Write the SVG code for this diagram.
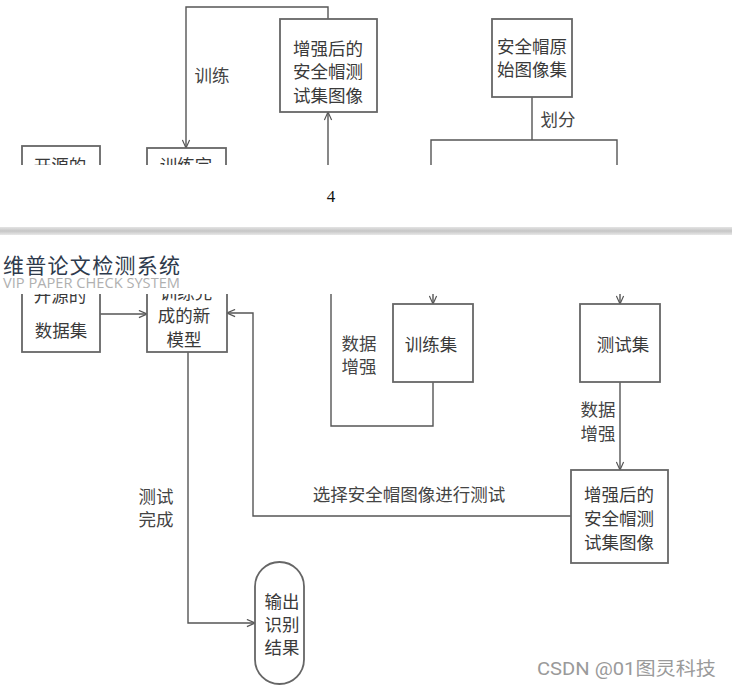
<svg xmlns="http://www.w3.org/2000/svg" width="732" height="689" viewBox="0 0 732 689">
<style>
.box{fill:#fff;stroke:#666;stroke-width:1.8}
.ln{fill:none;stroke:#555;stroke-width:1.4}
.t{font-family:"Noto Sans CJK SC","Noto Sans",sans-serif;font-size:17.5px;fill:#3a3a3a;text-anchor:middle;dominant-baseline:central}
.lbl{font-family:"Noto Sans CJK SC","Noto Sans",sans-serif;font-size:17.5px;fill:#444;text-anchor:middle;dominant-baseline:central}
</style>
<defs>
<marker id="arr" viewBox="0 0 10 10" refX="10" refY="5" markerWidth="9" markerHeight="9" markerUnits="userSpaceOnUse" orient="auto">
<path d="M1,1 L10,5 L1,9" fill="none" stroke="#555" stroke-width="1.3"/>
</marker>
<clipPath id="topPage"><rect x="0" y="0" width="732" height="165"/></clipPath>
<clipPath id="botPage"><rect x="0" y="294" width="732" height="395"/></clipPath>
<linearGradient id="band" x1="0" y1="0" x2="0" y2="1">
<stop offset="0" stop-color="#e4e4e4"/>
<stop offset="0.5" stop-color="#c6c6c6"/>
<stop offset="1" stop-color="#e8e8e8"/>
</linearGradient>
</defs>
<rect width="732" height="689" fill="#fff"/>

<!-- top page -->
<g clip-path="url(#topPage)">
<g id="connectors-top">
<path class="ln" d="M328,19 L328,7 L186,7 L186,148" marker-end="url(#arr)"/>
<path class="ln" d="M328,175 L328,112" marker-end="url(#arr)"/>
<path class="ln" d="M532,97 L532,140 M431,175 L431,140 L617,140 L617,175"/>
<text class="lbl" x="212" y="74">训练</text>
<text class="lbl" x="558" y="118">划分</text>
</g>
<g id="top-aug-test">
<rect class="box" x="280" y="19" width="97" height="93"/>
<text class="t" x="328" y="47">增强后的</text>
<text class="t" x="328" y="70">安全帽测</text>
<text class="t" x="328" y="94">试集图像</text>
</g>
<g id="raw-images">
<rect class="box" x="492" y="19" width="80" height="78"/>
<text class="t" x="532" y="45">安全帽原</text>
<text class="t" x="532" y="68">始图像集</text>
</g>
<g id="top-model">
<rect class="box" x="147" y="148" width="79" height="80"/>
<text class="t" x="186" y="164">训练完</text>
</g>
<g id="top-open-data">
<rect class="box" x="22" y="146" width="78" height="80"/>
<text class="t" x="60" y="164">开源的</text>
</g>
</g>

<text x="331" y="202" font-family="Liberation Serif, serif" font-size="17" fill="#111" text-anchor="middle">4</text>
<rect x="0" y="227" width="732" height="8" fill="url(#band)"/>

<!-- bottom page -->
<g clip-path="url(#botPage)">
<g id="connectors">
<path class="ln" d="M100,314 L147,314" marker-end="url(#arr)"/>
<path class="ln" d="M571,516 L253,516 L253,313 L227,313" marker-end="url(#arr)"/>
<path class="ln" d="M188,352 L188,623 L255,623" marker-end="url(#arr)"/>
<path class="ln" d="M331,280 L331,426 L433,426 L433,382"/>
<path class="ln" d="M433,280 L433,304" marker-end="url(#arr)"/>
<path class="ln" d="M620,280 L620,304" marker-end="url(#arr)"/>
<path class="ln" d="M620,382 L620,470" marker-end="url(#arr)"/>
<text class="lbl" x="359" y="342">数据</text>
<text class="lbl" x="359" y="365">增强</text>
<text class="lbl" x="598" y="408">数据</text>
<text class="lbl" x="598" y="432">增强</text>
<text class="lbl" x="156" y="495">测试</text>
<text class="lbl" x="156" y="518">完成</text>
<text class="lbl" x="409" y="493">选择安全帽图像进行测试</text>
</g>
<g id="open-data">
<rect class="box" x="22" y="260" width="78" height="92"/>
<text class="t" x="60" y="294">开源的</text>
<text class="t" x="61" y="329">数据集</text>
</g>
<g id="model">
<rect class="box" x="147" y="260" width="80" height="92"/>
<text class="t" x="186" y="291">训练完</text>
<text class="t" x="184" y="314">成的新</text>
<text class="t" x="184" y="338">模型</text>
</g>
<g id="train-set">
<rect class="box" x="393" y="304" width="80" height="78"/>
<text class="t" x="431" y="343">训练集</text>
</g>
<g id="test-set">
<rect class="box" x="580" y="304" width="80" height="78"/>
<text class="t" x="623" y="343">测试集</text>
</g>
<g id="aug-test">
<rect class="box" x="571" y="470" width="97" height="93"/>
<text class="t" x="619" y="493">增强后的</text>
<text class="t" x="619" y="517">安全帽测</text>
<text class="t" x="619" y="541">试集图像</text>
</g>
<g id="output">
<rect class="box" x="255" y="562" width="49" height="122" rx="24.5" ry="24.5"/>
<text class="t" x="282" y="600">输出</text>
<text class="t" x="282" y="623">识别</text>
<text class="t" x="282" y="646">结果</text>
</g>
</g>

<g id="watermark">
<text x="3" y="273" font-family="Noto Sans CJK SC, sans-serif" font-size="21" fill="#2e3a4c" textLength="177">维普论文检测系统</text>
<text x="3" y="288" font-family="Open Sans, sans-serif" font-size="14" fill="#b0b0b0" textLength="177" lengthAdjust="spacingAndGlyphs">VIP PAPER CHECK SYSTEM</text>
</g>
<text x="537" y="675" font-family="Roboto, Noto Sans CJK SC, sans-serif" font-size="18" fill="#9a9a9a" textLength="179" lengthAdjust="spacingAndGlyphs">CSDN @01图灵科技</text>
</svg>
